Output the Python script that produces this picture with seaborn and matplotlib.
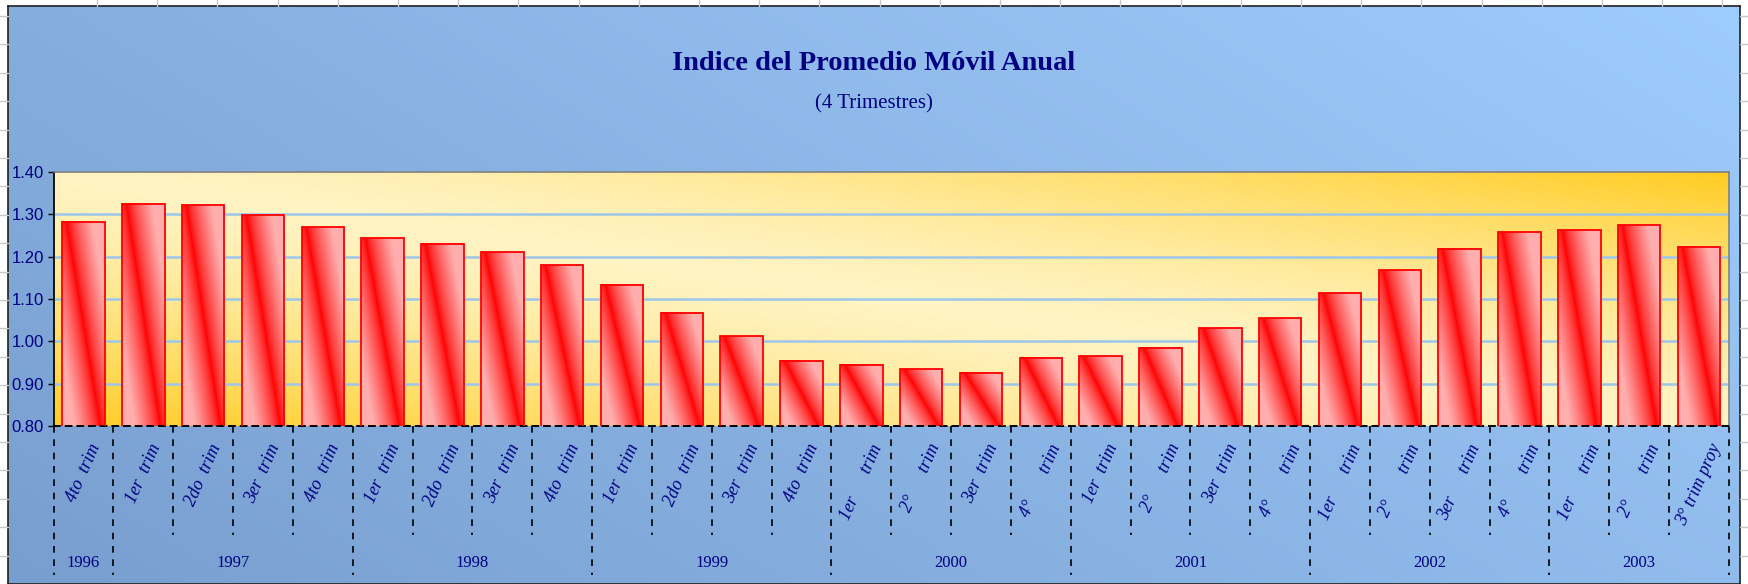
import numpy as np
import pandas as pd
import matplotlib
matplotlib.use("Agg")
import matplotlib.pyplot as plt
import seaborn as sns
from matplotlib.lines import Line2D
from matplotlib.transforms import blended_transform_factory

# ---- data ----
years = ["1996", "1997", "1998", "1999", "2000", "2001", "2002", "2003"]
trim_per_year = [1, 4, 4, 4, 4, 4, 4, 3]
tick_labels = [
    "4to  trim",
    "1er  trim", "2do  trim", "3er  trim", "4to  trim",
    "1er  trim", "2do  trim", "3er  trim", "4to  trim",
    "1er  trim", "2do  trim", "3er  trim", "4to  trim",
    "1er      trim", "2°      trim", "3er  trim", "4°       trim",
    "1er  trim", "2°      trim", "3er  trim", "4°       trim",
    "1er      trim", "2°       trim", "3er      trim", "4°       trim",
    "1er      trim", "2°       trim", "3° trim proy",
]
indice = [1.283, 1.325, 1.321, 1.298, 1.270, 1.244, 1.231, 1.211, 1.180,
          1.134, 1.068, 1.012, 0.954, 0.945, 0.934, 0.926, 0.961, 0.965,
          0.985, 1.031, 1.055, 1.113, 1.168, 1.219, 1.258, 1.262, 1.274, 1.223]

year_of = [y for y, n in zip(years, trim_per_year) for _ in range(n)]
df = pd.DataFrame({"periodo": [f"{y} {t}" for y, t in zip(year_of, tick_labels)],
                   "indice": indice})

sns.set_theme(style="white")
plt.rcParams["font.family"] = ["Liberation Serif", "DejaVu Serif"]

navy = "#000080"
W, H = 1748, 584
fig = plt.figure(figsize=(W / 100, H / 100), dpi=100)
fig.patch.set_facecolor("white")

# spreadsheet cell lines around the chart
for y in np.arange(16, H, 28.4):
    fig.add_artist(Line2D([0, 8 / W], [1 - y / H] * 2, color="#c8c8c8", lw=1))
    fig.add_artist(Line2D([1740 / W, 1], [1 - y / H] * 2, color="#c8c8c8", lw=1))
for x in np.arange(97, W, 60.2):
    fig.add_artist(Line2D([x / W] * 2, [1 - 6 / H, 1], color="#c8c8c8", lw=1))

# chart area background (blue gradient)
bg = fig.add_axes([8 / W, 0, 1732 / W, 578 / H], zorder=-10)
yy, xx = np.mgrid[0:1:200j, 0:1:400j]
t = np.clip(0.65 * xx + 0.35 * (1 - yy), 0, 1)[..., None]
dark = np.array([0.47, 0.62, 0.81])
light = np.array([0.62, 0.80, 0.99])
bg.imshow(dark * (1 - t) + light * t, aspect="auto", extent=[0, 1, 0, 1], origin="upper")
bg.set_xticks([]); bg.set_yticks([])
for s in bg.spines.values():
    s.set_color("#202020"); s.set_linewidth(1.2)

# plot area
ax = fig.add_axes([53.6 / W, 158 / H, 1675.4 / W, 254 / H])
yy, xx = np.mgrid[1:0:200j, 0:1:400j]
g = np.clip(np.abs(xx + yy - 1), 0, 1) ** 1.4
g = g[..., None]
cream = np.array([1.0, 0.955, 0.77])
gold = np.array([1.0, 0.80, 0.13])
ax.imshow(cream * (1 - g) + gold * g, aspect="auto", extent=[-0.5, 27.5, 0.8, 1.4],
          origin="upper", zorder=0)

for yv in [0.9, 1.0, 1.1, 1.2, 1.3]:
    ax.axhline(yv, color="#9cc6ea", lw=1.8, zorder=1)

sns.barplot(data=df, x="periodo", y="indice", ax=ax, width=0.71, color="red",
            edgecolor="red", linewidth=1.3, zorder=3)

# diagonal red/pink shading of each bar
vv, uu = np.mgrid[0:1:120j, 0:1:60j]
d = uu - (0.1 + 0.8 * vv)
c = (np.clip(np.abs(d) / 0.6, 0, 1) ** 0.75)[..., None]
red = np.array([1.0, 0.0, 0.0])
pink = np.array([1.0, 0.68, 0.68])
bar_img = red * (1 - c) + pink * c
for p in ax.patches:
    x0, w, h = p.get_x(), p.get_width(), p.get_height()
    ax.imshow(bar_img, aspect="auto", extent=[x0, x0 + w, 0.8, h], origin="upper", zorder=2.5)
    p.set_facecolor("none")

ax.set_xlim(-0.5, 27.5)
ax.set_ylim(0.8, 1.4)
ax.set_xlabel("")
ax.set_ylabel("")

ax.set_yticks([0.8, 0.9, 1.0, 1.1, 1.2, 1.3, 1.4])
ax.set_yticklabels([f"{v:.2f}" for v in [0.8, 0.9, 1.0, 1.1, 1.2, 1.3, 1.4]],
                   family=["Liberation Sans Narrow", "Liberation Sans"], color=navy, fontsize=12)
ax.tick_params(axis="y", left=True, length=4, width=1, color="black", pad=3)

ax.set_xticks(range(len(tick_labels)))
ax.set_xticklabels(tick_labels, rotation=66, ha="center", va="top", fontsize=13,
                   style="italic", color=navy)
ax.tick_params(axis="x", length=0, pad=11)

for side in ["top", "right"]:
    ax.spines[side].set_color("#808080")
    ax.spines[side].set_linewidth(1.2)
ax.spines["left"].set_color("black")
ax.spines["bottom"].set_color("black")
ax.spines["bottom"].set_linestyle((0, (3, 3)))
ax.spines["bottom"].set_linewidth(1.4)

# dashed separators and year labels below the axis
tr = blended_transform_factory(ax.transData, ax.transAxes)
bounds = np.concatenate([[0], np.cumsum(trim_per_year)]) - 0.5
for b in np.arange(-0.5, len(indice)):
    ymin = -0.587 if np.any(np.isclose(bounds, b)) else -0.429
    ax.plot([b, b], [0, ymin], transform=tr, clip_on=False, color="black",
            lw=1.2, ls=(0, (4, 4)))
for yr, lo, hi in zip(years, bounds[:-1], bounds[1:]):
    ax.text((lo + hi) / 2, -0.54, yr, transform=tr, ha="center", va="center",
            fontsize=12, color=navy)

fig.text(874 / W, 1 - 63 / H, "Indice del Promedio Móvil Anual", ha="center", va="center",
         fontsize=20.5, fontweight="bold", color=navy)
fig.text(874 / W, 1 - 104 / H, "(4 Trimestres)", ha="center", va="center",
         fontsize=15, color=navy)

fig.savefig("out.png", dpi=100)
